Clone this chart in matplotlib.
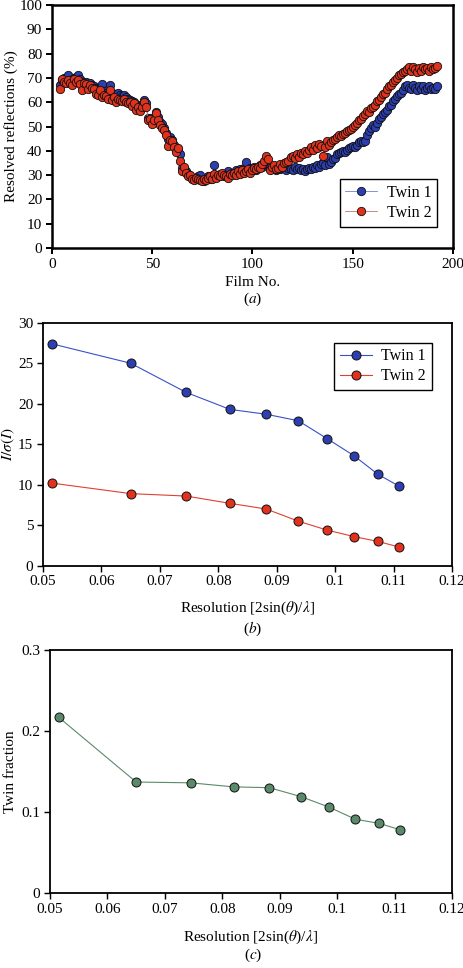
import numpy as np
import matplotlib
matplotlib.use('Agg')
import matplotlib.pyplot as plt

plt.rcParams['font.family']=['Liberation Serif','DejaVu Serif']
plt.rcParams['mathtext.fontset']='stix'
plt.rcParams['font.size']=11

# (a) resolved reflections per film, films 4..192
film=np.arange(4,193)
twin1_a=[67.0,69.0,70.0,69.5,71.0,69.0,68.5,70.0,70.5,71.0,
	69.5,68.5,68.0,68.5,67.5,68.0,67.0,66.5,66.0,65.5,
	66.0,67.5,64.5,64.0,63.5,67.0,64.0,63.5,62.5,64.0,
	63.0,62.5,63.0,62.0,61.5,61.0,60.5,60.0,58.5,59.0,
	58.0,59.0,61.0,59.5,53.5,53.5,52.5,53.0,56.0,54.0,
	52.0,51.0,49.5,47.5,45.0,45.5,44.5,42.5,40.5,40.0,
	38.5,33.0,32.0,31.5,30.5,29.5,29.0,28.5,28.5,29.5,
	30.0,28.0,27.5,28.5,29.5,28.5,29.5,34.0,30.0,29.5,
	30.5,30.0,29.5,30.5,31.5,30.0,31.0,30.5,32.0,31.5,
	32.5,31.0,33.0,35.5,32.0,33.0,32.5,33.5,32.0,33.0,
	34.0,33.5,34.5,35.0,34.0,33.0,32.5,33.0,32.0,33.5,
	32.5,33.0,33.5,32.0,33.0,32.5,32.0,33.5,32.5,33.0,
	32.0,32.5,31.5,32.5,33.0,32.5,33.5,33.0,34.0,33.5,
	34.5,35.0,34.0,37.5,34.5,35.5,36.5,37.0,38.5,39.0,
	39.5,40.0,39.5,40.5,41.0,41.5,42.0,41.5,42.5,43.5,
	44.0,43.5,44.0,46.5,48.0,49.5,50.5,50.0,51.5,53.0,
	54.0,55.0,56.0,57.0,58.5,59.0,60.5,61.5,62.5,63.5,
	64.0,65.0,66.5,67.0,66.0,65.5,67.0,66.0,65.0,66.5,
	65.5,66.5,65.0,66.0,66.5,65.5,66.0,65.5,66.5]
twin2_a=[65.5,69.5,68.5,68.0,69.0,68.0,67.0,69.5,68.5,69.0,
	67.5,65.0,68.0,67.5,65.5,67.0,66.0,65.5,63.5,63.0,
	65.0,62.0,63.0,62.5,61.5,65.0,61.0,62.0,60.0,61.5,
	61.0,60.5,61.5,60.0,59.5,60.0,58.5,59.5,57.0,58.0,
	56.5,58.0,60.0,58.0,52.5,53.0,51.0,52.5,55.5,52.5,
	50.5,49.5,48.5,46.5,42.0,44.5,44.0,41.5,39.5,41.0,
	36.0,31.5,33.5,31.0,29.5,30.0,28.5,28.0,29.0,28.5,
	28.0,27.5,28.5,28.0,29.0,29.5,28.5,30.5,29.0,30.0,
	29.5,31.0,30.0,29.5,29.0,30.5,30.0,31.0,30.0,31.5,
	30.5,32.0,31.0,31.5,32.5,31.0,32.0,33.0,32.5,33.5,
	33.0,34.5,36.0,38.0,36.5,32.0,33.5,34.0,32.5,33.0,
	34.5,33.5,35.0,35.5,36.0,37.5,38.0,37.0,38.5,37.5,
	39.0,38.5,40.0,39.0,40.5,41.5,40.5,42.5,41.0,43.0,
	42.0,38.0,41.5,44.0,42.5,43.5,44.5,45.0,45.5,46.5,
	46.0,47.0,47.5,48.0,48.5,49.0,50.0,50.5,51.5,52.5,
	53.0,54.5,55.0,56.5,56.0,57.5,58.0,59.0,60.5,61.0,
	62.0,63.5,64.0,65.5,66.5,67.0,68.5,69.0,70.0,71.0,
	71.5,72.5,73.0,73.5,74.5,73.0,74.5,73.5,72.5,74.0,
	73.0,74.5,73.5,74.0,73.0,74.5,73.5,74.0,75.0]

# (b) and (c) vs resolution
res=[0.0515,0.0650,0.0745,0.0820,0.0882,0.0937,0.0986,0.1032,0.1073,0.1110]
twin1_b=[27.4,25.0,21.4,19.3,18.7,17.9,15.7,13.6,11.3,9.8]
twin2_b=[10.2,8.9,8.6,7.7,7.0,5.5,4.4,3.6,3.0,2.3]
twin_frac=[0.217,0.137,0.136,0.131,0.130,0.119,0.106,0.091,0.086,0.078]

blue='#2c3eb0'
red='#e0321c'
green='#5b8a6a'
res_label=r'Resolution [2sin($\theta$)/$\lambda$]'
res_ticks=[0.05,0.06,0.07,0.08,0.09,0.1,0.11,0.12]
res_ticklabels=['0.05','0.06','0.07','0.08','0.09','0.1','0.11','0.12']

def style(ax,lw):
	for s in ax.spines.values():
		s.set_linewidth(lw)
	ax.tick_params(direction='out',length=4,width=lw*0.8,labelsize=11,pad=3)

fig=plt.figure(figsize=(4.64,9.68),dpi=100)

ax=fig.add_axes([0.112,0.7438,0.864,0.2510])
ax.plot(film,twin1_a,'-o',color='#7080d0',lw=0.6,ms=6,mfc=blue,mec='#101010',mew=0.6,label='Twin 1')
ax.plot(film,twin2_a,'-o',color='#d07070',lw=0.6,ms=6,mfc=red,mec='#101010',mew=0.6,label='Twin 2')
ax.set_xlim(0,200)
ax.set_ylim(0,100)
ax.set_xticks([0,50,100,150,200])
ax.set_yticks(range(0,101,10))
ax.set_xlabel('Film No.',labelpad=4)
ax.set_ylabel('Resolved reflections (%)',labelpad=1)
style(ax,1.8)
leg=ax.legend(loc='lower right',bbox_to_anchor=(0.98,0.055),fancybox=False,edgecolor='black',framealpha=1,handlelength=2.0,borderpad=0.35,labelspacing=0.25,handletextpad=0.6,fontsize=11.5)
leg.get_frame().set_linewidth(1.0)
fig.text(0.545,0.691,'($\\it{a}$)',ha='center',va='center',fontsize=11)

ax=fig.add_axes([0.0927,0.4156,0.8813,0.2510])
ax.plot(res,twin1_b,'-o',color='#3a50c8',lw=0.8,ms=6.5,mfc=blue,mec='#101010',mew=0.7,label='Twin 1')
ax.plot(res,twin2_b,'-o',color='#e04030',lw=0.8,ms=6.5,mfc=red,mec='#101010',mew=0.7,label='Twin 2')
ax.set_xlim(0.05,0.12)
ax.set_ylim(0,30)
ax.set_xticks(res_ticks)
ax.set_xticklabels(res_ticklabels)
ax.set_yticks(range(0,31,5))
ax.set_xlabel(res_label,labelpad=8)
ax.set_ylabel(r'$I/\sigma(I)$',labelpad=1)
style(ax,1.3)
leg=ax.legend(loc='upper right',bbox_to_anchor=(0.97,0.95),fancybox=False,edgecolor='black',framealpha=1,handlelength=2.0,borderpad=0.35,labelspacing=0.25,handletextpad=0.6,fontsize=11.5)
leg.get_frame().set_linewidth(1.0)
fig.text(0.545,0.350,'($\\it{b}$)',ha='center',va='center',fontsize=11)

ax=fig.add_axes([0.1078,0.0775,0.8662,0.2510])
ax.plot(res,twin_frac,'-o',color='#5b8a6a',lw=0.8,ms=6.5,mfc=green,mec='#101010',mew=0.7)
ax.set_xlim(0.05,0.12)
ax.set_ylim(0,0.3)
ax.set_xticks(res_ticks)
ax.set_xticklabels(res_ticklabels)
ax.set_yticks([0,0.1,0.2,0.3])
ax.set_yticklabels(['0','0.1','0.2','0.3'])
ax.set_xlabel(res_label,labelpad=9)
ax.set_ylabel('Twin fraction',labelpad=3)
style(ax,1.3)
fig.text(0.545,0.004,'($\\it{c}$)',ha='center',va='bottom',fontsize=11)

fig.savefig('out.png',dpi=100)
